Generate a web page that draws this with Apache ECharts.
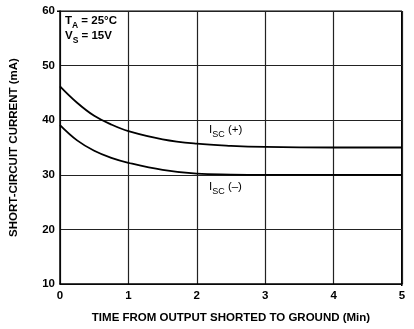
<!DOCTYPE html>
<html><head><meta charset="utf-8">
<script src="https://cdn.jsdelivr.net/npm/echarts@6/dist/echarts.min.js"></script>
<style>html,body{margin:0;padding:0;background:#fff}#c{width:414px;height:329px}</style>
</head><body><div id="c"></div>
<script>
const timeMin = [0, 0.25, 0.5, 0.75, 1, 1.5, 2, 2.5, 3, 4, 5];
const iscPlus = [46.2, 43.2, 40.8, 39.2, 38.0, 36.5, 35.7, 35.3, 35.1, 35.0, 35.0];
const iscMinus = [39.1, 36.3, 34.4, 33.1, 32.2, 30.9, 30.2, 30.05, 30.0, 30.0, 30.0];
const xTicks = [0, 1, 2, 3, 4, 5];
const yTicks = [10, 20, 30, 40, 50, 60];

const font = 'Liberation Sans, Arial, sans-serif';
const chart = echarts.init(document.getElementById('c'), null, {renderer: 'canvas'});
const mk = (xs, ys) => xs.map((x, i) => [x, ys[i]]);
const lab = {color: '#000', fontFamily: font, fontWeight: 'bold', fontSize: 11.5};
const richSub = (bold) => ({
  m: {fontFamily: font, fontWeight: bold ? 'bold' : 'normal', fontSize: bold ? 11.5 : 11.5, fill: '#000', lineHeight: 15, verticalAlign: 'top'},
  s: {fontFamily: font, fontWeight: bold ? 'bold' : 'normal', fontSize: bold ? 8.5 : 9, fill: '#000', lineHeight: 15, verticalAlign: 'bottom'}
});
chart.setOption({
  animation: false,
  grid: {left: 57, right: 12, top: 11, bottom: 43},
  xAxis: {
    type: 'value', min: xTicks[0], max: xTicks[xTicks.length - 1], interval: 1,
    name: 'TIME FROM OUTPUT SHORTED TO GROUND (Min)', nameLocation: 'middle', nameGap: 28,
    nameTextStyle: Object.assign({}, lab),
    axisLine: {show: true, lineStyle: {color: '#000', width: 1.5}},
    axisTick: {show: false},
    axisLabel: Object.assign({margin: 6}, lab),
    splitLine: {show: true, lineStyle: {color: '#222', width: 1.2}}
  },
  yAxis: {
    type: 'value', min: yTicks[0], max: yTicks[yTicks.length - 1], interval: 10,
    name: 'SHORT-CIRCUIT CURRENT (mA)', nameLocation: 'middle', nameGap: 40,
    nameTextStyle: Object.assign({}, lab),
    axisLine: {show: true, lineStyle: {color: '#000', width: 1.5}},
    axisTick: {show: false},
    axisLabel: Object.assign({margin: 5}, lab),
    splitLine: {show: true, lineStyle: {color: '#222', width: 1.2}}
  },
  series: [
    {type: 'line', data: mk(timeMin, iscPlus), smooth: 0.4, showSymbol: false, lineStyle: {color: '#000', width: 1.8}},
    {type: 'line', data: mk(timeMin, iscMinus), smooth: 0.4, showSymbol: false, lineStyle: {color: '#000', width: 1.8}}
  ],
  graphic: [
    {type: 'rect', left: 401, top: 11, shape: {width: 1.5, height: 275}, style: {fill: '#000'}},
    {type: 'rect', left: 57, top: 10.5, shape: {width: 345, height: 1.5}, style: {fill: '#000'}},
    {type: 'text', left: 65, top: 15, style: {
      text: '{m|T}{s|A}{m| = 25°C}\n{m|V}{s|S}{m| = 15V}', rich: richSub(true)
    }},
    {type: 'text', left: 209, top: 124, style: {
      text: '{m|I}{s|SC}{m| (+)}', rich: richSub(false)
    }},
    {type: 'text', left: 209, top: 181, style: {
      text: '{m|I}{s|SC}{m| (–)}', rich: richSub(false)
    }}
  ]
});
</script></body></html>
